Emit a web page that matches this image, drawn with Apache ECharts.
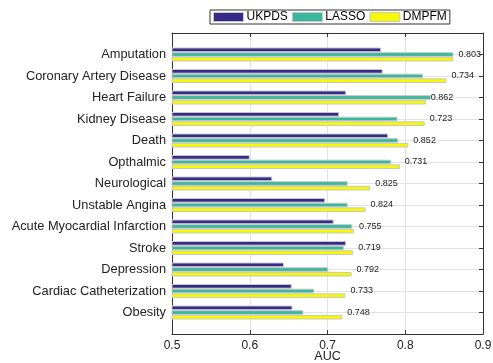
<!DOCTYPE html>
<html><head><meta charset="utf-8">
<script src="https://cdn.jsdelivr.net/npm/echarts@6/dist/echarts.min.js"></script>
<style>html,body{margin:0;padding:0;background:#fff}#c{width:493px;height:363px}</style>
</head><body><div id="c"></div>
<script>
const categories = ["Amputation","Coronary Artery Disease","Heart Failure","Kidney Disease","Death","Opthalmic","Neurological","Unstable Angina","Acute Myocardial Infarction","Stroke","Depression","Cardiac Catheterization","Obesity"];
const ukpds = [0.769,0.771,0.724,0.715,0.778,0.600,0.629,0.697,0.708,0.724,0.644,0.654,0.655];
const lasso = [0.862,0.823,0.833,0.790,0.791,0.782,0.726,0.726,0.732,0.721,0.701,0.683,0.669];
const dmpfm = [0.862,0.853,0.8265,0.825,0.804,0.793,0.755,0.749,0.734,0.733,0.731,0.723,0.719];
const valueLabels = ["0.803","0.734","0.862","0.723","0.852","0.731","0.825","0.824","0.755","0.719","0.792","0.733","0.748"];
const xTicks = [0.5,0.6,0.7,0.8,0.9];

// axis limits span one empty slot above and below the categories (like ylim [0,14])
const cats = [''].concat(categories, ['']);
const pad = (arr) => [null].concat(arr, [null]);
const N = cats.length;
const inner = (i) => i > 0 && i < N - 1;

const FONT = "Liberation Sans";
const chart = echarts.init(document.getElementById('c'));
const barStyle = (c) => ({color:c, borderColor:'#c8c8c8', borderWidth:1});
chart.setOption({
  animation:false,
  textStyle:{fontFamily:FONT},
  grid:{left:172,right:10,top:33,bottom:29,containLabel:false,outerBoundsMode:'none'},
  legend:{
    left:210, top:10, padding:[1,3], itemGap:4, itemWidth:30, itemHeight:9,
    borderColor:'#333', borderWidth:1, backgroundColor:'#fff',
    icon:'rect',
    itemStyle:{borderColor:'#c8c8c8',borderWidth:1},
    textStyle:{fontFamily:FONT,fontSize:12,color:'#000',padding:[0,0,0,-2]},
    data:['UKPDS','LASSO','DMPFM']
  },
  xAxis:[{
    type:'value', min:0.5, max:0.9, interval:0.1, position:'bottom',
    name:'AUC', nameLocation:'middle', nameGap:16, nameMoveOverlap:false,
    nameTextStyle:{fontFamily:FONT,fontSize:12.5,color:'#222',verticalAlign:'top'},
    axisLine:{show:true,lineStyle:{color:'#333',width:1}},
    axisTick:{show:true,inside:true,length:4,lineStyle:{color:'#333'}},
    axisLabel:{fontFamily:FONT,fontSize:12,color:'#222',margin:6,formatter:v=>xTicks.includes(+v.toFixed(1))?v.toFixed(1):''},
    splitLine:{show:true,lineStyle:{color:'#e2e2e2',width:1}}
  },{
    type:'value', min:0.5, max:0.9, interval:0.1, position:'top',
    axisLine:{show:true,lineStyle:{color:'#333',width:1}},
    axisTick:{show:true,inside:true,length:4,lineStyle:{color:'#333'}},
    axisLabel:{show:false}, splitLine:{show:false}
  }],
  yAxis:[{
    type:'category', data:cats, inverse:true, position:'left', boundaryGap:false,
    axisLine:{show:true,lineStyle:{color:'#333',width:1}},
    axisTick:{show:false},
    axisLabel:{fontFamily:FONT,fontSize:12.8,color:'#222',margin:6,interval:0},
    splitLine:{show:true,interval:(i)=>inner(i),lineStyle:{color:'#e2e2e2',width:1}}
  },{
    type:'category', data:cats, inverse:true, position:'right', boundaryGap:false,
    axisLine:{show:true,lineStyle:{color:'#333',width:1}},
    axisTick:{show:true,inside:true,length:4,interval:(i)=>inner(i),lineStyle:{color:'#333'}},
    axisLabel:{show:false},
    splitLine:{show:false}
  }],
  series:[
    {name:'UKPDS',type:'bar',data:pad(ukpds),barWidth:4.67,barGap:'0%',itemStyle:barStyle('#352a87')},
    {name:'LASSO',type:'bar',data:pad(lasso),barWidth:4.67,barGap:'0%',itemStyle:barStyle('#38b79c')},
    {name:'DMPFM',type:'bar',data:pad(dmpfm),barWidth:4.67,barGap:'0%',itemStyle:barStyle('#f8f800'),
     label:{show:true,position:'right',distance:5,offset:[0,-4.7],fontFamily:FONT,fontSize:9,color:'#222',
       formatter:p=>valueLabels[p.dataIndex-1] || ''}}
  ]
});
</script></body></html>
